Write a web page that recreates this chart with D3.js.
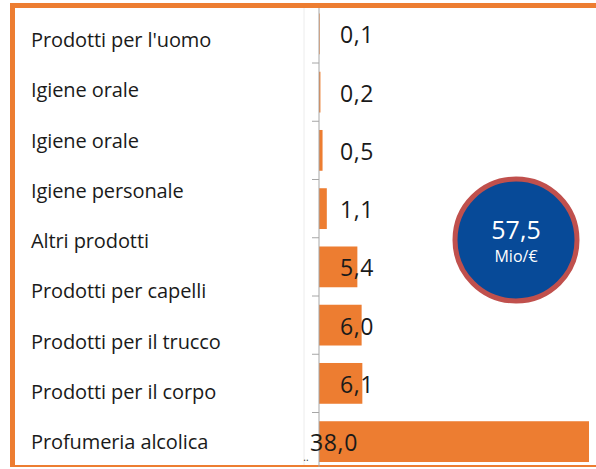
<!DOCTYPE html>
<html>
<head>
<meta charset="utf-8">
<script src="https://cdn.jsdelivr.net/npm/d3@7"></script>
<style>
  body { margin: 0; background: #fff; }
  svg { display: block; }
</style>
</head>
<body>
<svg id="svg" width="596" height="469"></svg>
<script>
const $svg = d3.select('#svg')

// left table rows
const rowLabels = [
	"Prodotti per l'uomo",
	'Igiene orale',
	'Igiene orale',
	'Igiene personale',
	'Altri prodotti',
	'Prodotti per capelli',
	'Prodotti per il trucco',
	'Prodotti per il corpo',
	'Profumeria alcolica',
]

// bar chart series
const barKeys = ['b1', 'b2', 'b3', 'b4', 'b5', 'b6', 'b7', 'b8']
const barValues = [0.1, 0.2, 0.5, 1.1, 5.4, 6.0, 6.1, 38.0]

const totalValue = '57,5'
const totalUnit = 'Mio/€'

const ORANGE = '#ed7d31'
const fmt = v => d3.format('.1f')(v).replace('.', ',')

// frame
$svg.append('rect').attr('x', 10).attr('y', 3).attr('width', 586).attr('height', 5).attr('fill', ORANGE)
$svg.append('rect').attr('x', 10).attr('y', 3).attr('width', 5).attr('height', 464).attr('fill', ORANGE)
$svg.append('rect').attr('x', 10).attr('y', 465).attr('width', 586).attr('height', 2).attr('fill', ORANGE)

// table
$svg.append('line')
	.attr('x1', 304).attr('x2', 304).attr('y1', 8).attr('y2', 465)
	.attr('stroke', '#ececec')

const rowScale = d3.scalePoint()
	.domain(d3.range(rowLabels.length))
	.range([40, 442])

$svg.append('g')
	.selectAll('text')
	.data(rowLabels)
	.join('text')
	  .attr('x', 31)
	  .attr('y', (d, i) => rowScale(i))
	  .attr('dy', '0.35em')
	  .attr('font-family', 'Open Sans, sans-serif')
	  .attr('font-size', 20)
	  .attr('letter-spacing', -0.1)
	  .attr('fill', '#1a1a1a')
	  .text(d => d)

// bars
const xScale = d3.scaleLinear()
	.domain([0, d3.max(barValues)])
	.range([319, 589])

const yScale = d3.scaleBand()
	.domain(barKeys)
	.range([4.75, 470.75])
	.paddingInner(0.3)
	.paddingOuter(0.15)

const step = yScale.step()

$svg.append('g')
	.selectAll('rect')
	.data(barValues)
	.join('rect')
	  .attr('x', xScale(0))
	  .attr('y', (d, i) => yScale(barKeys[i]))
	  .attr('width', d => xScale(d) - xScale(0))
	  .attr('height', yScale.bandwidth())
	  .attr('fill', ORANGE)

// axis with ticks between categories
const $axis = $svg.append('g').attr('stroke', '#a6a6a6')
$axis.append('line')
	.attr('x1', xScale(0)).attr('x2', xScale(0))
	.attr('y1', 8).attr('y2', 467)
$axis.selectAll('.tick')
	.data(barKeys.slice(1))
	.join('line')
	  .attr('class', 'tick')
	  .attr('x1', xScale(0) - 7).attr('x2', xScale(0))
	  .attr('y1', d => yScale(d) - step * 0.15)
	  .attr('y2', d => yScale(d) - step * 0.15)

// value labels
$svg.append('g')
	.selectAll('text')
	.data(barValues)
	.join('text')
	  .attr('x', d => d > 20 ? xScale(0) + 15 : xScale(0) + 38)
	  .attr('y', (d, i) => yScale(barKeys[i]) + yScale.bandwidth() / 2 + 1.5)
	  .attr('dy', '0.35em')
	  .attr('text-anchor', 'middle')
	  .attr('font-family', 'Open Sans, sans-serif')
	  .attr('font-size', 23)
	  .attr('letter-spacing', 0.6)
	  .attr('fill', '#1a1a1a')
	  .text(fmt)

$svg.append('text')
	.attr('x', 306).attr('y', 461)
	.attr('text-anchor', 'middle')
	.attr('font-family', 'Open Sans, sans-serif')
	.attr('font-size', 10)
	.attr('fill', '#333')
	.text('..')

// total badge
const $badge = $svg.append('g').attr('transform', 'translate(516, 240)')
$badge.append('circle')
	.attr('r', 61)
	.attr('fill', '#074a98')
	.attr('stroke', '#c0504d')
	.attr('stroke-width', 5)
$badge.append('text')
	.attr('y', -1)
	.attr('text-anchor', 'middle')
	.attr('font-family', 'Open Sans, sans-serif')
	.attr('font-size', 25)
	.attr('fill', '#fff')
	.text(totalValue)
$badge.append('text')
	.attr('y', 22)
	.attr('text-anchor', 'middle')
	.attr('font-family', 'Open Sans, sans-serif')
	.attr('font-size', 16)
	.attr('fill', '#fff')
	.text(totalUnit)
</script>
</body>
</html>
